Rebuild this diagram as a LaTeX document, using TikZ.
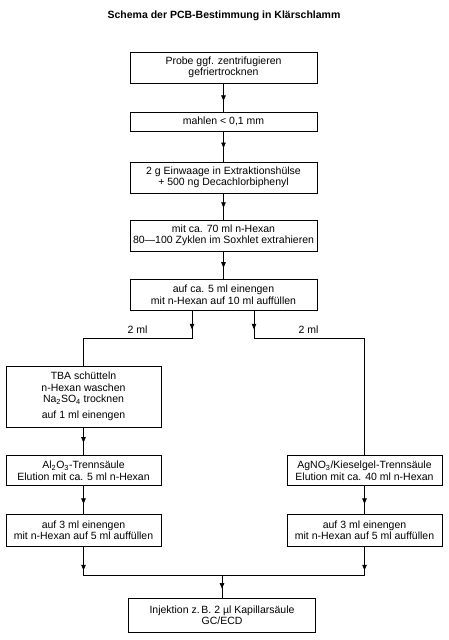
\documentclass[tikz,border=0pt]{standalone}
\usepackage{fontspec}
\setmainfont{Liberation Sans}
\usetikzlibrary{arrows.meta,decorations.markings}
\begin{document}
\begin{tikzpicture}[x=1pt, y=1pt,
  font=\fontsize{10.5}{11.5}\selectfont,
  box/.style={draw, line width=0.6pt, align=center, minimum width=187pt, minimum height=31pt, inner sep=2pt},
  sidebox/.style={box, minimum width=155pt},
  link/.style={line width=0.6pt},
  headat/.style={postaction={decorate, decoration={markings, mark=at position #1 with {\arrow{Triangle[width=4.5pt,length=5.5pt]}}}}}]
\useasboundingbox (0,0) rectangle (448,-640);
\node[font=\fontsize{10.5}{11.5}\selectfont\bfseries] (title) at (224,-16) {Schema der PCB-Bestimmung in Klärschlamm};
\node[box] (b1) at (223.5,-67.5) {Probe ggf. zentrifugieren\\gefriertrocknen};
\node[box, minimum height=19pt] (b2) at (223.5,-121.5) {mahlen < 0,1 mm};
\node[box] (b3) at (223.5,-177.5) {2 g Einwaage in Extraktionshülse\\+ 500 ng Decachlorbiphenyl};
\node[box] (b4) at (223.5,-235.5) {mit ca. 70 ml n-Hexan\\80---100 Zyklen im Soxhlet extrahieren};
\node[box] (b5) at (223.5,-294.5) {auf ca. 5 ml einengen\\mit n-Hexan auf 10 ml auffüllen};
\coordinate (splitL) at (192,-338);
\coordinate (splitR) at (254,-338);
\node (mlL) at (137.5,-329.5) {2 ml};
\node (mlR) at (308.5,-329.5) {2 ml};
\node[sidebox, minimum height=61pt] (tba) at (83.5,-396.5) {TBA schütteln\\n-Hexan waschen\\Na\textsubscript{2}SO\textsubscript{4} trocknen\\[4pt]auf 1 ml einengen};
\node[sidebox, minimum height=30pt] (l2) at (83.5,-470.5) {Al\textsubscript{2}O\textsubscript{3}-Trennsäule\\Elution mit ca. 5 ml n-Hexan};
\node[sidebox, minimum height=32pt] (l3) at (83.5,-530) {auf 3 ml einengen\\mit n-Hexan auf 5 ml auffüllen};
\node[sidebox, minimum height=30pt] (r2) at (364.5,-470.5) {AgNO\textsubscript{3}/Kieselgel-Trennsäule\\Elution mit ca. 40 ml n-Hexan};
\node[sidebox, minimum height=32pt] (r3) at (364.5,-530) {auf 3 ml einengen\\mit n-Hexan auf 5 ml auffüllen};
\coordinate (merge) at (222,-575);
\node[box, minimum height=34pt] (fin) at (222,-615) {Injektion z.\,B. 2 µl Kapillarsäule\\GC/ECD};
\draw[link, headat=0.62] (b1) -- (b2);
\draw[link, headat=0.55] (b2) -- (b3);
\draw[link, headat=0.55] (b3) -- (b4);
\draw[link, headat=0.6] (b4) -- (b5);
\draw[link, headat=19pt] (b5.south -| splitL) -- (splitL) -| (tba.north);
\draw[link, headat=19pt] (b5.south -| splitR) -- (splitR) -| (r2.north);
\draw[link, headat=0.55] (tba) -- (l2);
\draw[link, headat=0.65] (l2) -- (l3);
\draw[link, headat=0.65] (r2) -- (r3);
\draw[link, headat=24pt] (l3.south) |- (merge);
\draw[link, headat=24pt] (r3.south) |- (merge);
\draw[link, headat=0.6] (merge) -- (fin);
\end{tikzpicture}
\end{document}
